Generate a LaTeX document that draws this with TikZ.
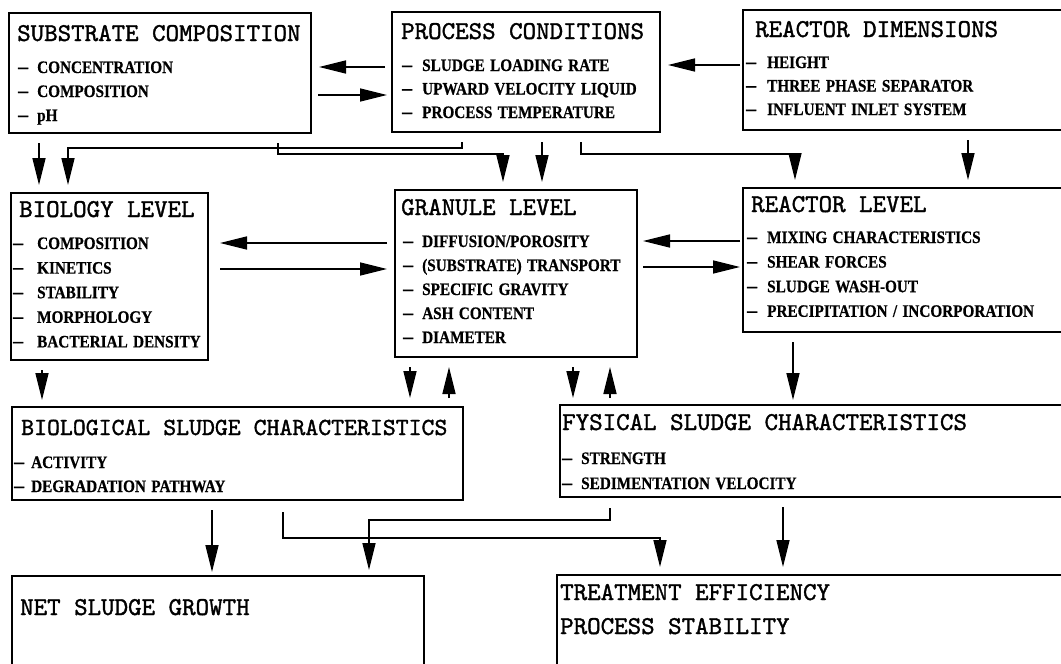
\documentclass[tikz,border=0pt]{standalone}
\usepackage{fontspec}
\usepackage{graphicx}
\newfontfamily\itemfont[FakeStretch=0.87,WordSpace=1.4,FakeBold=0.6]{Liberation Serif}
\newfontfamily\hdfont[FakeBold=1.4]{lmmono10-regular.otf}
\usetikzlibrary{arrows.meta,calc}
\tikzset{
 box/.style={draw, line width=1.6pt, anchor=north west, inner sep=0pt, outer sep=0pt},
 hd/.style={font=\fontsize{25.7}{28}\selectfont\hdfont, inner sep=0pt, anchor=base west},
 itm/.style={font=\fontsize{17.5}{20}\selectfont\itemfont\bfseries, inner sep=0pt, anchor=base west},
 arr/.style={line width=1.6pt, -{Triangle[length=27pt,width=13pt]}},
}
% #1 box, #2 dash x, #3 text x, #4 first baseline, #5 spacing, #6 items
\newcommand\boxitems[6]{%
  \foreach \itemtxt [count=\i from 0] in {#6} {%
    \node[itm] (#1-d\i) at ($(#1.north west)+(#2,#4+#5*\i)$) {\scalebox{1.3}[1.15]{\textendash}};
    \node[itm] (#1-t\i) at ($(#1.north west)+(#3,#4+#5*\i)$) {\itemtxt};
  }%
}
\begin{document}
\begin{tikzpicture}[x=1pt,y=-1pt]
\useasboundingbox (0,0) rectangle (1061,664);
\clip (0,0) rectangle (1061,664);
% boxes
\node[box, minimum width=302pt, minimum height=120pt] (sc) at (9,13) {};
\node[box, minimum width=268pt, minimum height=120pt] (pc) at (392,12) {};
\node[box, minimum width=357pt, minimum height=120pt] (rd) at (743,10) {};
\node[box, minimum width=197pt, minimum height=167pt] (bl) at (11,193) {};
\node[box, minimum width=242pt, minimum height=167pt] (gl) at (395,190) {};
\node[box, minimum width=357pt, minimum height=144pt] (rl) at (743,188) {};
\node[box, minimum width=451pt, minimum height=93pt] (bsc) at (12,407) {};
\node[box, minimum width=540pt, minimum height=92pt] (fsc) at (560,405) {};
\node[box, minimum width=412pt, minimum height=130pt] (nsg) at (12,576) {};
\node[box, minimum width=543pt, minimum height=130pt] (te) at (557,575) {};
% headings
\node[hd] (sc-h) at ($(sc.north west)+(8,28)$) {SUBSTRATE COMPOSITION};
\node[hd] (pc-h) at ($(pc.north west)+(9,27)$) {PROCESS CONDITIONS};
\node[hd] (rd-h) at ($(rd.north west)+(12,27)$) {REACTOR DIMENSIONS};
\node[hd] (bl-h) at ($(bl.north west)+(8,24)$) {BIOLOGY LEVEL};
\node[hd] (gl-h) at ($(gl.north west)+(6,25)$) {GRANULE LEVEL};
\node[hd] (rl-h) at ($(rl.north west)+(8,24)$) {REACTOR LEVEL};
\node[hd, font=\fontsize{24.6}{28}\selectfont\hdfont] (bsc-h) at ($(bsc.north west)+(9,28)$) {BIOLOGICAL SLUDGE CHARACTERISTICS};
\node[hd] (fsc-h) at ($(fsc.north west)+(2,25)$) {FYSICAL SLUDGE CHARACTERISTICS};
\node[hd] (nsg-h) at ($(nsg.north west)+(8,39)$) {NET SLUDGE GROWTH};
\node[hd] (te-h1) at ($(te.north west)+(3,25)$) {TREATMENT EFFICIENCY};
\node[hd] (te-h2) at ($(te.north west)+(3,59)$) {PROCESS STABILITY};
% items
\boxitems{sc}{9}{28}{60}{24}{CONCENTRATION,COMPOSITION,pH}
\boxitems{pc}{10}{30}{59}{23.5}{SLUDGE LOADING RATE,UPWARD VELOCITY LIQUID,PROCESS TEMPERATURE}
\boxitems{rd}{3}{24}{58}{23.5}{HEIGHT,THREE PHASE SEPARATOR,INFLUENT INLET SYSTEM}
\boxitems{bl}{2}{26}{56}{24.6}{COMPOSITION,KINETICS,STABILITY,MORPHOLOGY,BACTERIAL DENSITY}
\boxitems{gl}{8}{27}{57}{24}{DIFFUSION/POROSITY,(SUBSTRATE) TRANSPORT,SPECIFIC GRAVITY,ASH CONTENT,DIAMETER}
\boxitems{rl}{4}{24}{55}{24.6}{MIXING CHARACTERISTICS,SHEAR FORCES,SLUDGE WASH-OUT,PRECIPITATION / INCORPORATION}
\boxitems{bsc}{2}{19}{61}{24}{ACTIVITY,DEGRADATION PATHWAY}
\boxitems{fsc}{2}{21}{59}{25}{STRENGTH,SEDIMENTATION VELOCITY}
% connectors, top row
\draw[arr] ($(pc.north west)+(-7,55)$) -- ($(sc.north east)+(8,54)$);
\draw[arr] ($(sc.north east)+(7,82)$) -- ($(pc.north west)+(-5,83)$);
\draw[arr] ($(rd.north west)+(-3,55)$) -- ($(pc.north east)+(8,53)$);
% top row to middle row
\draw[arr] ($(sc.south west)+(30,10)$) -- ($(bl.north west)+(28,-8)$);
\draw[arr] ($(pc.south west)+(70,10)$) -- ++(0,6) -| ($(bl.north west)+(57,-8)$);
\draw[arr] ($(sc.south west)+(269,10)$) -- ++(0,11) -| ($(gl.north west)+(108,-8)$);
\draw[arr] ($(pc.south west)+(150,10)$) -- ($(gl.north west)+(147,-8)$);
\draw[arr] ($(pc.south west)+(189,10)$) -- ++(0,12) -| ($(rl.north west)+(52,-8)$);
\draw[arr] ($(rd.south west)+(225,10)$) -- ($(rl.north west)+(225,-8)$);
% middle row
\draw[arr] ($(gl.north west)+(-8,53)$) -- ($(bl.north east)+(12,50)$);
\draw[arr] ($(bl.north east)+(12,76)$) -- ($(gl.north west)+(-8,79)$);
\draw[arr] ($(rl.north west)+(-3,53)$) -- ($(gl.north east)+(6,51)$);
\draw[arr] ($(gl.north east)+(6,77)$) -- ($(rl.north west)+(-3,79)$);
% middle row to sludge characteristics
\draw[arr] ($(bl.south west)+(31,10)$) -- ($(bsc.north west)+(30,-7)$);
\draw[arr] ($(gl.south west)+(15,10)$) -- ($(bsc.north west)+(398,-9)$);
\draw[arr] ($(bsc.north west)+(437,-9)$) -- ($(gl.south west)+(54,10)$);
\draw[arr] ($(gl.south west)+(178,10)$) -- ($(fsc.north west)+(13,-7)$);
\draw[arr] ($(fsc.north west)+(50,-7)$) -- ($(gl.south west)+(215,10)$);
\draw[arr] ($(rl.south west)+(50,10)$) -- ($(fsc.north west)+(233,-5)$);
% sludge characteristics to results
\draw[arr] ($(bsc.south west)+(200,10)$) -- ($(nsg.north west)+(200,-4)$);
\draw[arr] ($(bsc.south west)+(271,12)$) -- ++(0,26) -| ($(te.north west)+(103,-8)$);
\draw[arr] ($(fsc.south west)+(50,11)$) -- ++(0,12) -| ($(nsg.north west)+(357,-6)$);
\draw[arr] ($(fsc.south west)+(223,10)$) -- ($(te.north west)+(226,-8)$);
\end{tikzpicture}
\end{document}
